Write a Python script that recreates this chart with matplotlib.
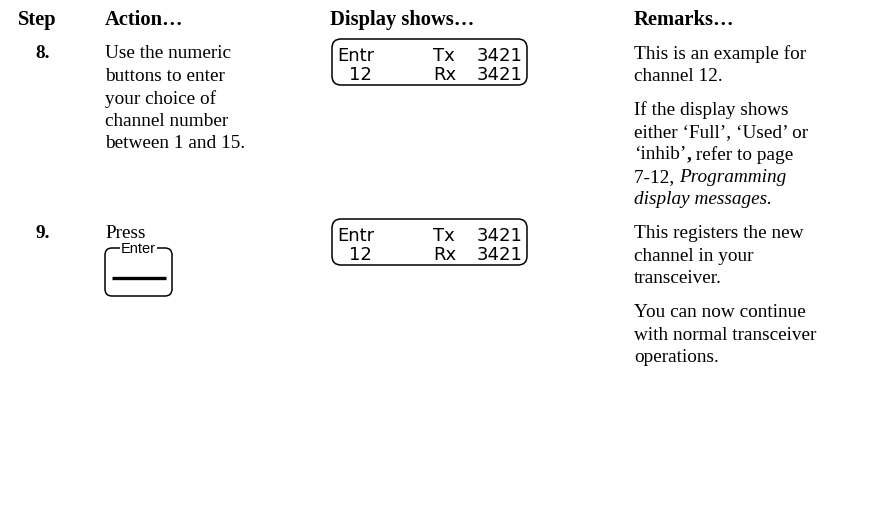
import matplotlib
matplotlib.use("Agg")
import matplotlib.pyplot as plt
from matplotlib.patches import FancyBboxPatch

# ---- content ----
headers = ["Step", "Action…", "Display shows…", "Remarks…"]
header_x = [18, 105, 330, 634]
steps = ["8.", "9."]
step_y = [54, 234]
action8 = ["Use the numeric", "buttons to enter", "your choice of",
           "channel number", "between 1 and 15."]
action9 = ["Press"]
lcd_line1 = ["Entr", "Tx", "3421"]
lcd_line2 = ["12", "Rx", "3421"]
remarks8a = ["This is an example for", "channel 12."]
# each line: list of (text, style) segments
remarks8b = [
    [("If the display shows", "n")],
    [("either ‘Full’, ‘Used’ or", "n")],
    [("‘inhib’", "n"), (",", "b"), (" refer to page", "n")],
    [("7-12, ", "n"), ("Programming", "i")],
    [("display messages.", "i")],
]
remarks9a = ["This registers the new", "channel in your", "transceiver."]
remarks9b = ["You can now continue", "with normal transceiver", "operations."]
button_label = "Enter"

W, H = 893, 510
fig = plt.figure(figsize=(W / 100, H / 100), dpi=100)
ax = fig.add_axes([0, 0, 1, 1])
ax.set_xlim(0, W)
ax.set_ylim(H, 0)
ax.axis("off")

SERIF = "Liberation Serif"
FS = 13.9
LS = 22.5

def lines(x, y0, texts, **kw):
    for i, t in enumerate(texts):
        ax.text(x, y0 + i * LS, t, family=SERIF, fontsize=FS, va="center",
                ha="left", color="black", **kw)

# headers
for hx, h in zip(header_x, headers):
    ax.text(hx, 20, h, family=SERIF, fontsize=14.8, fontweight="bold",
            va="center", ha="left")

# step numbers
for sy, s in zip(step_y, steps):
    ax.text(35, sy, s, family=SERIF, fontsize=FS, fontweight="bold",
            va="center", ha="left")

# actions
lines(105, 54, action8)
lines(105, 234, action9)

# remarks
lines(634, 54, remarks8a)
fig.canvas.draw()
renderer = fig.canvas.get_renderer()
inv = ax.transData.inverted()
for i, segs in enumerate(remarks8b):
    y = 110 + i * LS
    x = 634
    for txt, st in segs:
        kw = {}
        if st == "i":
            kw["style"] = "italic"
        if st == "b":
            kw["fontweight"] = "bold"
        t = ax.text(x, y, txt, family=SERIF, fontsize=FS, va="center",
                    ha="left", **kw)
        bb = t.get_window_extent(renderer=renderer)
        x = inv.transform((bb.x1, bb.y0))[0]
lines(634, 234, remarks9a)
lines(634, 313, remarks9b)

# LCD displays
LCDF = "DejaVu Sans"

def lcd(y0):
    box = FancyBboxPatch((332, y0), 195, 46,
                         boxstyle="round,pad=0,rounding_size=9",
                         fill=False, ec="black", lw=1.1)
    ax.add_patch(box)
    xs1 = [337, 433, 523]
    xs2 = [349, 433, 523]
    has = ["left", "left", "right"]
    for row, (xs, words) in enumerate(((xs1, lcd_line1), (xs2, lcd_line2))):
        yy = y0 + 16 + row * 19
        for x, w, ha in zip(xs, words, has):
            ax.text(x, yy, w, family=LCDF, fontsize=13, va="center",
                    ha=ha, color="black")

lcd(40)
lcd(220)

# Enter button
btn = FancyBboxPatch((105, 249), 67, 48,
                     boxstyle="round,pad=0,rounding_size=7",
                     fill=False, ec="black", lw=1.1)
ax.add_patch(btn)
ax.text(138.5, 249, button_label, family="Liberation Sans", fontsize=10.5,
        ha="center", va="center",
        bbox=dict(boxstyle="square,pad=0.05", fc="white", ec="none"))
ax.plot([112, 166], [279, 279], color="black", lw=2.4, solid_capstyle="butt")

fig.savefig("out.png", dpi=100)
